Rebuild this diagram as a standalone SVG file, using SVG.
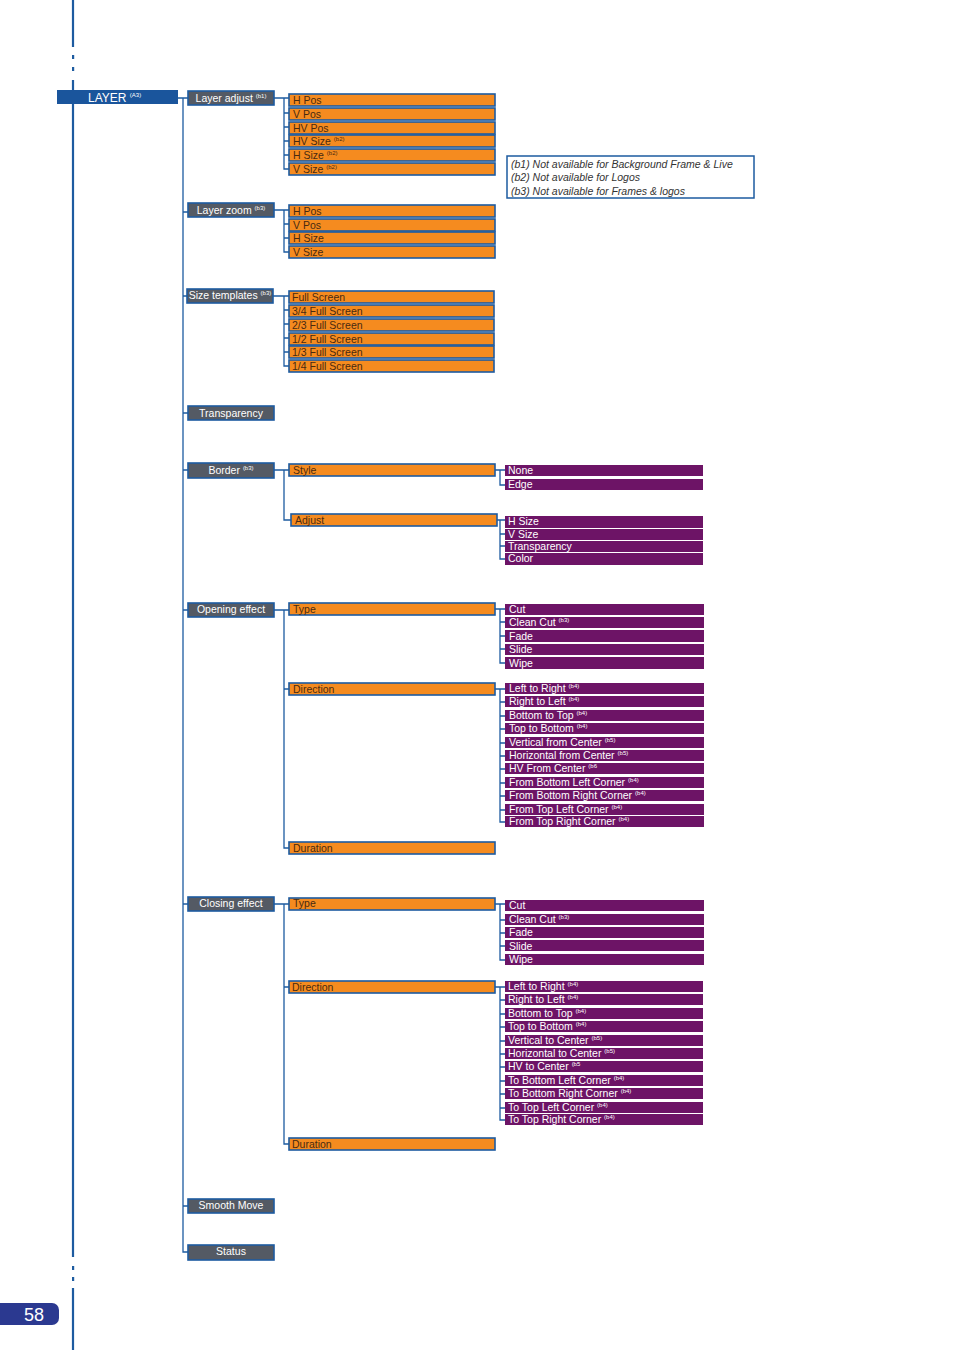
<svg xmlns="http://www.w3.org/2000/svg" width="954" height="1350" viewBox="0 0 954 1350">
<style>
text{font-family:"Liberation Sans",Arial,sans-serif;font-size:10.5px}
.l1{fill:#545a64;stroke:#1d5ba0;stroke-width:1.6}
.t1{fill:#fff;text-anchor:middle}
.o{fill:#f58b1f;stroke:#1d5ba0;stroke-width:1.6}
.to{fill:#4a2a10}
.p{fill:#6d1466}
.tp{fill:#fff}
.c{fill:none;stroke:#1d5ba0;stroke-width:1.3}
.s{font-size:6px}
.n{font-style:italic;fill:#333;font-size:10.5px}
</style>
<g id="margin">
<path d="M73 0V47M73 80V1257M73 1288V1350" stroke="#1d5ba0" stroke-width="2.2" fill="none"/>
<rect x="72" y="55" width="2.2" height="4" fill="#1d5ba0"/><rect x="72" y="67" width="2.2" height="4" fill="#1d5ba0"/>
<rect x="72" y="1266" width="2.2" height="4" fill="#1d5ba0"/><rect x="72" y="1277" width="2.2" height="4" fill="#1d5ba0"/>
<path d="M0 1303H52a7 7 0 0 1 7 7v8a7 7 0 0 1 -7 7H0Z" fill="#2b3990"/>
<text x="34" y="1321" fill="#fff" style="font-size:18px" text-anchor="middle">58</text>
</g>
<g id="connectors">
<path class="c" d="M178 98H188M183 98V1252H188M183 212H188M183 296H188M183 413H188M183 470H188M183 610H188M183 904H188M183 1206H188"/>
<path class="c" d="M274 98H289M284 98V169H289M284 113H289M284 127H289M284 141H289M284 155H289"/>
<path class="c" d="M274 210H289M284 210V252H289M284 224H289M284 238H289"/>
<path class="c" d="M273 296H289M284 296V366H289M284 310H289M284 324H289M284 338H289M284 352H289"/>
<path class="c" d="M274 470H289M284 470V520H291"/>
<path class="c" d="M495 470H505M500 470V485H505"/>
<path class="c" d="M497 520H505M500 520V559H505M500 534H505M500 546H505"/>
<path class="c" d="M274 610H289M284 610V848H289M284 689H289"/>
<path class="c" d="M495 609H505M500 609V663H505M500 622H505M500 636H505M500 649H505"/>
<path class="c" d="M495 689H505M500 689V822H505M500 702H505M500 716H505M500 729H505M500 743H505M500 756H505M500 769H505M500 783H505M500 796H505M500 810H505"/>
<path class="c" d="M274 904H289M284 904V1144H289M284 987H289"/>
<path class="c" d="M495 904H505M500 904V960H505M500 920H505M500 933H505M500 946H505"/>
<path class="c" d="M495 987H505M500 987V1120H505M500 1000H505M500 1014H505M500 1027H505M500 1041H505M500 1054H505M500 1067H505M500 1081H505M500 1094H505M500 1108H505"/>
</g>
<g id="layer"><rect x="57" y="90" width="121" height="14" fill="#1a559c"/><text x="88" y="102" fill="#fff" style="font-size:12px">LAYER <tspan class="s" dy="-5">(A3)</tspan></text></g>
<g id="layer-adjust"><rect class="l1" x="188" y="91" width="86" height="14"/><text class="t1" x="231" y="102">Layer adjust <tspan class="s" dy="-4">(b1)</tspan></text></g>
<g id="la-items">
<rect class="o" x="289" y="94" width="206" height="12"/><text class="to" x="293" y="104">H Pos</text>
<rect class="o" x="289" y="108" width="206" height="12"/><text class="to" x="293" y="118">V Pos</text>
<rect class="o" x="289" y="122" width="206" height="12"/><text class="to" x="293" y="132">HV Pos</text>
<rect class="o" x="289" y="135" width="206" height="12"/><text class="to" x="293" y="145">HV Size <tspan class="s" dy="-4">(b2)</tspan></text>
<rect class="o" x="289" y="149" width="206" height="12"/><text class="to" x="293" y="159">H Size <tspan class="s" dy="-4">(b2)</tspan></text>
<rect class="o" x="289" y="163" width="206" height="12"/><text class="to" x="293" y="173">V Size <tspan class="s" dy="-4">(b2)</tspan></text>
</g>
<g id="note"><rect x="507" y="156" width="247" height="42" fill="#fff" stroke="#1d5ba0" stroke-width="1.5"/>
<text class="n" x="511" y="168">(b1) Not available for Background Frame &amp; Live</text>
<text class="n" x="511" y="181">(b2) Not available for Logos</text>
<text class="n" x="511" y="195">(b3) Not available for Frames &amp; logos</text></g>
<g id="layer-zoom"><rect class="l1" x="188" y="203" width="86" height="14"/><text class="t1" x="231" y="214">Layer zoom <tspan class="s" dy="-4">(b3)</tspan></text></g>
<g id="lz-items">
<rect class="o" x="289" y="205" width="206" height="12"/><text class="to" x="293" y="215">H Pos</text>
<rect class="o" x="289" y="219" width="206" height="12"/><text class="to" x="293" y="229">V Pos</text>
<rect class="o" x="289" y="232" width="206" height="12"/><text class="to" x="293" y="242">H Size</text>
<rect class="o" x="289" y="246" width="206" height="12"/><text class="to" x="293" y="256">V Size</text>
</g>
<g id="size-templates"><rect class="l1" x="187" y="289" width="86" height="14"/><text class="t1" x="230" y="299">Size templates <tspan class="s" dy="-4">(b3)</tspan></text></g>
<g id="st-items">
<rect class="o" x="289" y="291" width="205" height="12"/><text class="to" x="292" y="301">Full Screen</text>
<rect class="o" x="289" y="305" width="205" height="12"/><text class="to" x="292" y="315">3/4 Full Screen</text>
<rect class="o" x="289" y="319" width="205" height="12"/><text class="to" x="292" y="329">2/3 Full Screen</text>
<rect class="o" x="289" y="333" width="205" height="12"/><text class="to" x="292" y="343">1/2 Full Screen</text>
<rect class="o" x="289" y="346" width="205" height="12"/><text class="to" x="292" y="356">1/3 Full Screen</text>
<rect class="o" x="289" y="360" width="205" height="12"/><text class="to" x="292" y="370">1/4 Full Screen</text>
</g>
<g id="transparency"><rect class="l1" x="188" y="406" width="86" height="14"/><text class="t1" x="231" y="417">Transparency</text></g>
<g id="border"><rect class="l1" x="188" y="463" width="86" height="15"/><text class="t1" x="231" y="474">Border <tspan class="s" dy="-4">(b3)</tspan></text></g>
<g id="border-items">
<rect class="o" x="289" y="464" width="206" height="12"/><text class="to" x="293" y="474">Style</text>
<rect class="o" x="291" y="514" width="206" height="12"/><text class="to" x="295" y="524">Adjust</text>
<rect class="p" x="505" y="465" width="198" height="11"/><text class="tp" x="508" y="474">None</text>
<rect class="p" x="505" y="479" width="198" height="11"/><text class="tp" x="508" y="488">Edge</text>
<rect class="p" x="505" y="516" width="198" height="12"/><text class="tp" x="508" y="525">H Size</text>
<rect class="p" x="505" y="529" width="198" height="11"/><text class="tp" x="508" y="538">V Size</text>
<rect class="p" x="505" y="541" width="198" height="11"/><text class="tp" x="508" y="550">Transparency</text>
<rect class="p" x="505" y="553" width="198" height="12"/><text class="tp" x="508" y="562">Color</text>
</g>
<g id="opening-effect"><rect class="l1" x="188" y="603" width="86" height="14"/><text class="t1" x="231" y="613">Opening effect</text></g>
<g id="oe-items">
<rect class="o" x="289" y="603" width="206" height="12"/><text class="to" x="293" y="613">Type</text>
<rect class="o" x="289" y="683" width="206" height="12"/><text class="to" x="293" y="693">Direction</text>
<rect class="o" x="289" y="842" width="206" height="12"/><text class="to" x="293" y="852">Duration</text>
<rect class="p" x="505" y="604" width="199" height="11"/><text class="tp" x="509" y="613">Cut</text>
<rect class="p" x="505" y="617" width="199" height="11"/><text class="tp" x="509" y="626">Clean Cut <tspan class="s" dy="-4">(b3)</tspan></text>
<rect class="p" x="505" y="630" width="199" height="12"/><text class="tp" x="509" y="640">Fade</text>
<rect class="p" x="505" y="644" width="199" height="11"/><text class="tp" x="509" y="653">Slide</text>
<rect class="p" x="505" y="657" width="199" height="12"/><text class="tp" x="509" y="667">Wipe</text>
<rect class="p" x="505" y="683" width="199" height="11"/><text class="tp" x="509" y="692">Left to Right <tspan class="s" dy="-4">(b4)</tspan></text>
<rect class="p" x="505" y="696" width="199" height="11"/><text class="tp" x="509" y="705">Right to Left <tspan class="s" dy="-4">(b4)</tspan></text>
<rect class="p" x="505" y="710" width="199" height="11"/><text class="tp" x="509" y="719">Bottom to Top <tspan class="s" dy="-4">(b4)</tspan></text>
<rect class="p" x="505" y="723" width="199" height="11"/><text class="tp" x="509" y="732">Top to Bottom <tspan class="s" dy="-4">(b4)</tspan></text>
<rect class="p" x="505" y="737" width="199" height="11"/><text class="tp" x="509" y="746">Vertical from Center <tspan class="s" dy="-4">(b5)</tspan></text>
<rect class="p" x="505" y="750" width="199" height="11"/><text class="tp" x="509" y="759">Horizontal from Center <tspan class="s" dy="-4">(b5)</tspan></text>
<rect class="p" x="505" y="763" width="199" height="11"/><text class="tp" x="509" y="772">HV From Center <tspan class="s" dy="-4">(b6</tspan></text>
<rect class="p" x="505" y="777" width="199" height="11"/><text class="tp" x="509" y="786">From Bottom Left Corner <tspan class="s" dy="-4">(b4)</tspan></text>
<rect class="p" x="505" y="790" width="199" height="11"/><text class="tp" x="509" y="799">From Bottom Right Corner <tspan class="s" dy="-4">(b4)</tspan></text>
<rect class="p" x="505" y="804" width="199" height="11"/><text class="tp" x="509" y="813">From Top Left Corner <tspan class="s" dy="-4">(b4)</tspan></text>
<rect class="p" x="505" y="816" width="199" height="11"/><text class="tp" x="509" y="825">From Top Right Corner <tspan class="s" dy="-4">(b4)</tspan></text>
</g>
<g id="closing-effect"><rect class="l1" x="188" y="897" width="86" height="14"/><text class="t1" x="231" y="907">Closing effect</text></g>
<g id="ce-items">
<rect class="o" x="289" y="898" width="206" height="12"/><text class="to" x="293" y="907">Type</text>
<rect class="o" x="289" y="981" width="206" height="12"/><text class="to" x="292" y="991">Direction</text>
<rect class="o" x="289" y="1138" width="206" height="12"/><text class="to" x="292" y="1148">Duration</text>
<rect class="p" x="505" y="900" width="199" height="11"/><text class="tp" x="509" y="909">Cut</text>
<rect class="p" x="505" y="914" width="199" height="11"/><text class="tp" x="509" y="923">Clean Cut <tspan class="s" dy="-4">(b3)</tspan></text>
<rect class="p" x="505" y="927" width="199" height="11"/><text class="tp" x="509" y="936">Fade</text>
<rect class="p" x="505" y="940" width="199" height="11"/><text class="tp" x="509" y="950">Slide</text>
<rect class="p" x="505" y="954" width="199" height="11"/><text class="tp" x="509" y="963">Wipe</text>
<rect class="p" x="505" y="981" width="198" height="11"/><text class="tp" x="508" y="990">Left to Right <tspan class="s" dy="-4">(b4)</tspan></text>
<rect class="p" x="505" y="994" width="198" height="11"/><text class="tp" x="508" y="1003">Right to Left <tspan class="s" dy="-4">(b4)</tspan></text>
<rect class="p" x="505" y="1008" width="198" height="11"/><text class="tp" x="508" y="1017">Bottom to Top <tspan class="s" dy="-4">(b4)</tspan></text>
<rect class="p" x="505" y="1021" width="198" height="11"/><text class="tp" x="508" y="1030">Top to Bottom <tspan class="s" dy="-4">(b4)</tspan></text>
<rect class="p" x="505" y="1035" width="198" height="11"/><text class="tp" x="508" y="1044">Vertical to Center <tspan class="s" dy="-4">(b5)</tspan></text>
<rect class="p" x="505" y="1048" width="198" height="11"/><text class="tp" x="508" y="1057">Horizontal to Center <tspan class="s" dy="-4">(b5)</tspan></text>
<rect class="p" x="505" y="1061" width="198" height="11"/><text class="tp" x="508" y="1070">HV to Center <tspan class="s" dy="-4">(b5</tspan></text>
<rect class="p" x="505" y="1075" width="198" height="11"/><text class="tp" x="508" y="1084">To Bottom Left Corner <tspan class="s" dy="-4">(b4)</tspan></text>
<rect class="p" x="505" y="1088" width="198" height="11"/><text class="tp" x="508" y="1097">To Bottom Right Corner <tspan class="s" dy="-4">(b4)</tspan></text>
<rect class="p" x="505" y="1102" width="198" height="11"/><text class="tp" x="508" y="1111">To Top Left Corner <tspan class="s" dy="-4">(b4)</tspan></text>
<rect class="p" x="505" y="1114" width="198" height="11"/><text class="tp" x="508" y="1123">To Top Right Corner <tspan class="s" dy="-4">(b4)</tspan></text>
</g>
<g id="smooth-move"><rect class="l1" x="188" y="1199" width="86" height="14"/><text class="t1" x="231" y="1209">Smooth Move</text></g>
<g id="status"><rect class="l1" x="188" y="1245" width="86" height="15"/><text class="t1" x="231" y="1255">Status</text></g>
</svg>
